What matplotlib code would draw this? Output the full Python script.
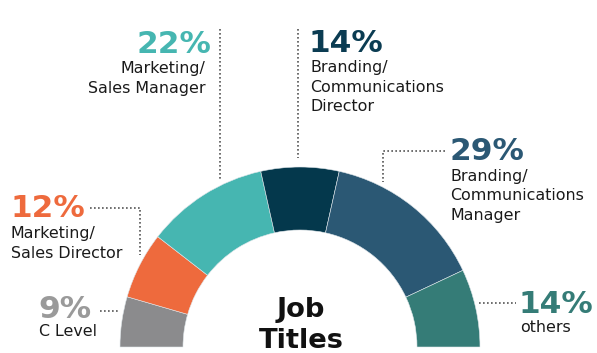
import matplotlib
matplotlib.use("Agg")
from matplotlib import pyplot as plt

# Job title shares, left to right along the half ring
titles = ["C Level", "Marketing/\nSales Director", "Marketing/\nSales Manager",
          "Branding/\nCommunications\nDirector", "Branding/\nCommunications\nManager",
          "others"]
shares = [9, 12, 22, 14, 29, 14]
colors = ["#8b8b8d", "#ee6a3d", "#46b6b1", "#04384c", "#2b5874", "#357c77"]
pct_colors = ["#9a9a9a", "#ee6a3d", "#46b6b1", "#0b3c52", "#2b5874", "#357c77"]

W, H = 597, 353
fig = plt.figure(figsize=(W / 100, H / 100), dpi=100)
ax = fig.add_axes([0, 0, 1, 1])

cx, cy = 300, H - 347
R, ring = 180, 63

ax.pie([s / 200 for s in shares], colors=colors, normalize=False,
       startangle=180, counterclock=False, radius=R, center=(cx, cy),
       wedgeprops=dict(width=ring, edgecolor="#dfe6ea", linewidth=0.4))

ax.set_xlim(0, W)
ax.set_ylim(0, H)
ax.set_aspect("equal")
ax.axis("off")

def py(y):
    # pixel row (from top) -> data y
    return H - y

# label layout: (x, pct baseline, first text baseline, align)
layout = [
    (38, 318, 336, "left"),
    (10, 217, 238, "left"),
    (211, 53, 73, "right"),
    (309, 52, 72, "left"),
    (449, 160, 181, "left"),
    (519, 313, 332, "left"),
]

for t, s, pc, (x, yb, tb, ha) in zip(titles, shares, pct_colors, layout):
    ax.text(x, py(yb), f"{s}%", color=pc, fontsize=22.5, fontweight="bold",
            ha=ha, va="baseline")
    for i, line in enumerate(t.split("\n")):
        ax.text(x + (1 if ha == "left" else -6), py(tb + 19.5 * i), line,
                color="#1a1a1a", fontsize=11.4, ha=ha, va="baseline")

# dotted leader lines
dot = dict(color="#555555", linewidth=1.2, linestyle=(0, (1, 1.4)))
ax.plot([100, 120], [py(311), py(311)], **dot)
ax.plot([90, 140, 140], [py(208), py(208), py(255)], **dot)
ax.plot([220, 220], [py(29), py(181)], **dot)
ax.plot([298, 298], [py(29), py(158)], **dot)
ax.plot([445, 383, 383], [py(151), py(151), py(182)], **dot)
ax.plot([479, 516], [py(303), py(303)], **dot)

ax.text(301, py(317), "Job", fontsize=19.7, fontweight="bold",
        color="#111111", ha="center", va="baseline")
ax.text(301, py(348), "Titles", fontsize=19.7, fontweight="bold",
        color="#111111", ha="center", va="baseline")

fig.savefig("out.png", dpi=100)
